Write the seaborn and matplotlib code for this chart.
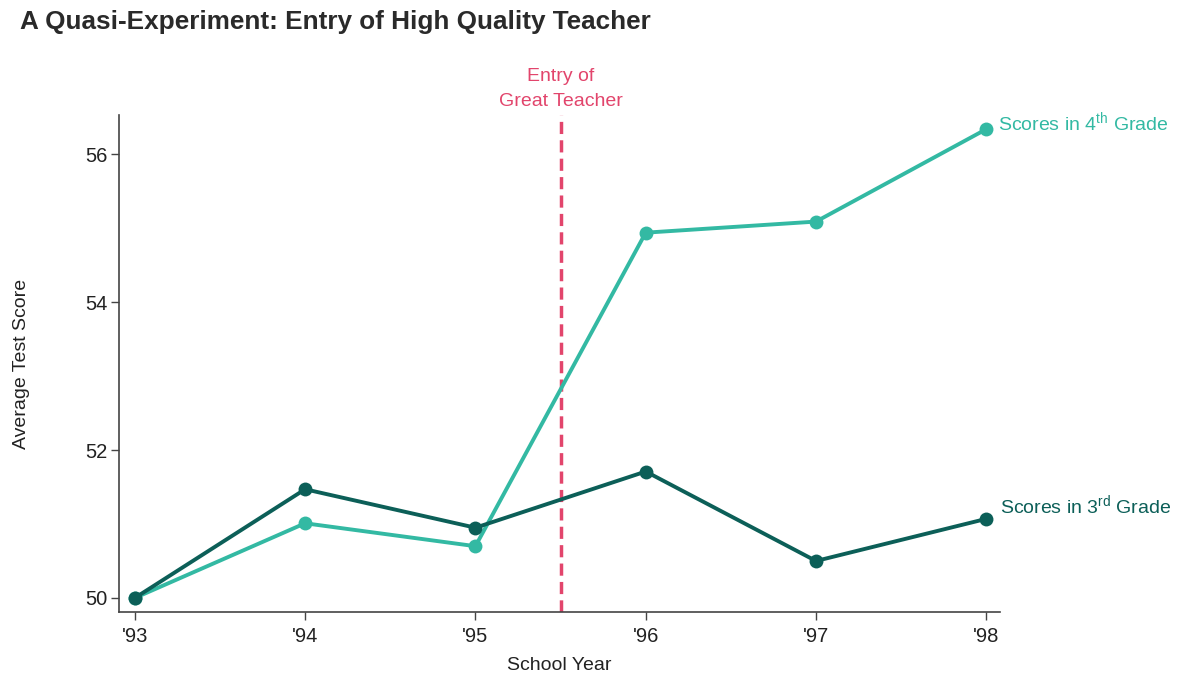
import matplotlib
matplotlib.use("Agg")
import matplotlib.pyplot as plt
import seaborn as sns
import pandas as pd

# School years and average test scores per cohort
years = [93, 94, 95, 96, 97, 98]
year_labels = ["'93", "'94", "'95", "'96", "'97", "'98"]
scores_4th = [50.0, 51.01, 50.70, 54.94, 55.09, 56.34]
scores_3rd = [50.0, 51.47, 50.95, 51.71, 50.50, 51.07]
entry_year = 95.5

col_4th = "#33b9a3"
col_3rd = "#0c5f58"
col_entry = "#e2456c"

sns.set_theme(style="ticks")
plt.rcParams["font.family"] = ["Liberation Sans", "DejaVu Sans"]
plt.rcParams["mathtext.fontset"] = "custom"
plt.rcParams["mathtext.rm"] = "Liberation Sans"
plt.rcParams["mathtext.it"] = "Liberation Sans"

df = pd.DataFrame({
    "year": years * 2,
    "score": scores_4th + scores_3rd,
    "grade": ["4th"] * len(years) + ["3rd"] * len(years),
})

fig = plt.figure(figsize=(11.88, 6.77), dpi=100)
ax = fig.add_axes([0.100, 0.096, 0.742, 0.734])

sns.lineplot(data=df, x="year", y="score", hue="grade",
             palette={"4th": col_4th, "3rd": col_3rd},
             hue_order=["4th", "3rd"], marker="o", markersize=10,
             markeredgewidth=0, linewidth=2.8, legend=False, ax=ax)

ax.axvline(entry_year, color=col_entry, linestyle=(0, (3.5, 1.8)), linewidth=2.5,
           zorder=1)
ax.text(entry_year, 56.6, "Entry of\nGreat Teacher", color=col_entry,
        ha="center", va="bottom", fontsize=14, linespacing=1.6, clip_on=False)

ax.text(98.07, scores_4th[-1] + 0.09, r"Scores in 4$^{\mathrm{th}}$ Grade", color=col_4th,
        ha="left", va="center", fontsize=14, clip_on=False)
ax.text(98.08, scores_3rd[-1] + 0.18, r"Scores in 3$^{\mathrm{rd}}$ Grade", color=col_3rd,
        ha="left", va="center", fontsize=14, clip_on=False)

ax.set_xlim(92.906, 98.082)
ax.set_ylim(49.81, 56.53)
ax.set_xticks(years)
ax.set_xticklabels(year_labels)
ax.set_yticks([50, 52, 54, 56])
ax.tick_params(axis="both", labelsize=14.5, color="#444444", length=6, width=1,
               labelcolor="#222222")
ax.tick_params(axis="y", pad=2)
ax.tick_params(axis="x", pad=5)
ax.set_xlabel("School Year", fontsize=14, color="#222222", labelpad=8)
ax.set_ylabel("Average Test Score", fontsize=14, color="#222222", labelpad=40)

for side in ["top", "right"]:
    ax.spines[side].set_visible(False)
for side in ["left", "bottom"]:
    ax.spines[side].set_color("#444444")
    ax.spines[side].set_linewidth(1.2)

fig.text(0.017, 0.968, "A Quasi-Experiment: Entry of High Quality Teacher",
         fontsize=18.8, fontweight="bold", color="#2a2a2a", ha="left", va="center")

fig.savefig("out.png", dpi=100, facecolor="white")
